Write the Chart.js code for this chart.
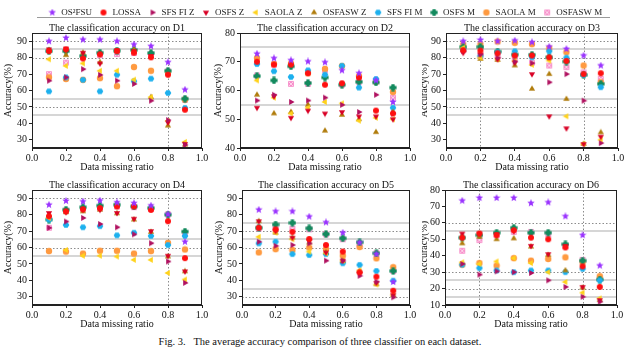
<!DOCTYPE html>
<html>
<head>
<meta charset="utf-8">
<script src="https://cdn.jsdelivr.net/npm/chart.js@4.4.1/dist/chart.umd.min.js"></script>
<style>
  html, body { margin: 0; padding: 0; background: #fff; }
  #wrap { position: relative; width: 640px; height: 355px; overflow: hidden; }
  #wrap canvas { position: absolute; }
  #rule { position: absolute; left: 37px; top: 17px; width: 573px; height: 1px; background: #9a9a9a; }
  #caption { position: absolute; left: 0; top: 336px; width: 640px; text-align: center;
             font: 10.5px 'Liberation Serif', serif; color: #111; white-space: pre; }
</style>
</head>
<body>
<div id="wrap">
  <div id="rule"></div>
  <div id="caption">Fig. 3.   The average accuracy comparison of three classifier on each dataset.</div>
</div>
<script>
// ── DATA ──────────────────────────────────────────────────────────────────
const X        = [0.1, 0.2, 0.3, 0.4, 0.5, 0.6, 0.7, 0.8, 0.9];
const X_TICKS  = [0, 0.2, 0.4, 0.6, 0.8, 1.0];
const SERIES   = ['OS²FSU','LOSSA','SFS FI Z','OSFS Z','SAOLA Z','OSFASW Z','SFS FI M','OSFS M','SAOLA M','OSFASW M'];

const Y_TICKS_A = [30, 40, 50, 60, 70, 80, 90];
const Y_TICKS_B = [40, 50, 60, 70, 80];
const Y_TICKS_C = [10, 20, 30, 40, 50, 60, 70, 80];

// one row per series, same order as SERIES
const D1 = [
  [90, 92, 91, 91, 90, 88, 87, 77.2, 60.5],
  [84, 85, 79.5, 82, 84, 83, 80.2, 69.6, 48.3],
  [66, 68, 73, 69.5, 66, 64, 53.8, 42, 27],
  [85, 85.5, 83, 76.5, 84.5, 84, 81, 40.6, 27.5],
  [79, 75, 76.5, 72, 72, 66.6, 56, 41.5, 28.7],
  [84.5, 81.5, 83, 77.2, 84, 85, 56, 38.6, 27],
  [59.5, 68, 66.5, 59.5, 69.6, 65.6, 67.2, 58.5, 49.4],
  [84, 84, 81, 83, 84.2, 84.7, 82.8, 72, 55],
  [68, 67, 66.5, 67.5, 62.6, 74.3, 72, 71, 54.5],
  [70, 77, 80.5, 81.5, 82.2, 82.8, 82, 71.7, 54.4],
];
const D2 = [
  [72.8, 71.2, 70.5, 70.1, 69.8, 67, 66, 63.5, 56],
  [70, 69, 69, 66, 62, 62.5, 64.5, 53, 52],
  [56.5, 58.5, 56, 56.5, 57.5, 55, 52.5, 58.5, 52],
  [54, 58, 50.5, 53, 52, 52.5, 51, 51, 50],
  [63.5, 57.5, 52, 54, 56, 55.5, 49.5, 50.5, 50],
  [58.5, 52, 52.5, 55, 46, 51.5, 50, 45.5, 52.5],
  [69.2, 66.7, 64.7, 67, 65.5, 68.6, 61, 64, 54],
  [65, 63.5, 68.4, 62.6, 64.5, 62, 63, 62.8, 61],
  [71.3, 69.2, 69.4, 66, 67.5, 68.5, 65, 63, 59.5],
  [65.2, 69, 62.3, 62.3, 67, 62, 63, 63.5, 57.5],
];
const D3 = [
  [90, 90.8, 90, 90.4, 89.4, 86.7, 85.3, 81.3, 75.2],
  [84.5, 84.3, 82.7, 81.3, 81.3, 80.2, 78, 70, 70.5],
  [84, 82, 80, 77.6, 76.6, 65, 70, 53.8, 28],
  [83, 82, 79, 77, 70, 44.3, 37, 27.4, 31.9],
  [86, 80, 79, 78, 75.6, 78.2, 44.3, 27.5, 30],
  [85, 79.2, 78.6, 75.2, 61, 70, 54.8, 27.5, 34.5],
  [85, 81, 83.3, 83.9, 80.2, 83.9, 80, 69.5, 62],
  [86.5, 86.5, 83.7, 81.9, 81.7, 80.2, 77.6, 69.5, 64],
  [88, 88, 89.8, 89, 88.2, 85.7, 83.3, 75.2, 65],
  [85, 81, 82, 80, 77, 75.2, 74.2, 71, 67],
];
const D4 = [
  [86, 88.4, 88, 88.6, 87.4, 87, 85.5, 80.2, 63.5],
  [79, 82, 83.3, 84, 85, 85, 82.9, 76, 53.5],
  [72, 75.8, 78, 74.3, 72.3, 68, 62.6, 51.5, 38.5],
  [81, 81.5, 83, 83, 81, 77.5, 70, 55, 45.5],
  [78, 58.5, 55, 55, 54.5, 52.5, 52.5, 44.5, 40.5],
  [79.8, 81.5, 82, 83, 80.8, 77, 69.5, 54.5, 45.5],
  [77, 73.7, 72.3, 73, 67.4, 69, 67, 61.5, 67],
  [77, 83, 84.5, 85.5, 86, 85, 84, 80, 69.7],
  [57.8, 57.5, 56.3, 58, 58, 56.3, 57.8, 62.8, 58.8],
  [72, 82.5, 83.5, 84, 85, 84.5, 83.5, 80.2, 68.7],
];
const D5 = [
  [83, 82, 82, 78.8, 75.3, 69, 63, 56, 39],
  [72, 71, 69.5, 65.2, 61.5, 57.5, 44.9, 42.2, 33.7],
  [63.5, 61, 61.5, 62.5, 52, 52, 42.8, 39.2, 29.7],
  [76, 70, 66, 64, 57, 52, 44, 38.5, 31],
  [66.5, 69, 65, 57.5, 56.5, 52, 46, 37.5, 31],
  [76, 69, 66, 63, 57, 51.8, 45.7, 37.6, 31],
  [62.5, 63.5, 56, 55.4, 56, 50.4, 49.4, 45.7, 39.8],
  [72, 74, 75, 71.7, 68.2, 65.6, 63.2, 56.5, 45.7],
  [57, 59, 58.5, 59.9, 59, 55, 60.3, 53.4, 48],
  [71.5, 72, 71.5, 71, 68, 65, 62, 56.5, 45.7],
];
const D6 = [
  [73.5, 75.2, 75.2, 75.2, 72, 72.5, 64, 52.5, 34],
  [51, 53.5, 52.5, 55.5, 51, 50, 45, 33.5, 21],
  [35, 28.5, 30.5, 30, 29.5, 25, 21, 15, 12],
  [53.5, 53.5, 53, 55, 46, 41, 46, 21, 13],
  [36, 35, 36.5, 38.5, 35.5, 30, 24, 17.5, 14],
  [47.5, 51.5, 50, 50.5, 45.5, 40.5, 31, 20.5, 13],
  [34.5, 32.5, 31, 30, 31, 31, 30, 32, 25],
  [51, 52.5, 54, 57, 54, 54, 47, 37, 25.5],
  [34.5, 35.5, 34, 38.5, 37, 38, 39, 36, 27.5],
  [43, 49.5, 52.5, 54.5, 54.5, 53, 46, 37.5, 26],
];

// ── STYLE ─────────────────────────────────────────────────────────────────
const SERIF  = "'Liberation Serif', 'Times New Roman', serif";
const COLORS = ['#9a32ff','#ff1010','#b0105f','#d90025','#ffd21a','#b07c0c','#1db0ee','#138a5e','#ff9a40','#f78cc9'];

function marker(draw) {
  const c = document.createElement('canvas');
  c.width = 8; c.height = 8;
  const g = c.getContext('2d');
  g.translate(4, 4);
  draw(g);
  return c;
}
function poly(g, n, r, rot, color) {
  g.beginPath();
  for (let i = 0; i < n; i++) {
    const a = rot + i * 2 * Math.PI / n;
    g.lineTo(r * Math.cos(a), r * Math.sin(a));
  }
  g.closePath(); g.fillStyle = color; g.fill();
}
function star(g, color) {
  g.beginPath();
  for (let i = 0; i < 10; i++) {
    const r = i % 2 ? 1.7 : 3.9, a = -Math.PI / 2 + i * Math.PI / 5;
    g.lineTo(r * Math.cos(a), r * Math.sin(a));
  }
  g.closePath(); g.fillStyle = color; g.fill();
}
function dot(g, color, r) { g.beginPath(); g.arc(0, 0, r, 0, Math.PI * 2); g.fillStyle = color; g.fill(); }

const MARKERS = [
  marker(g => star(g, COLORS[0])),
  marker(g => dot(g, COLORS[1], 3.0)),
  marker(g => poly(g, 3, 3.6, 0, COLORS[2])),
  marker(g => poly(g, 3, 3.6, Math.PI / 2, COLORS[3])),
  marker(g => poly(g, 3, 3.6, Math.PI, COLORS[4])),
  marker(g => poly(g, 3, 3.6, -Math.PI / 2, COLORS[5])),
  marker(g => poly(g, 6, 3.3, 0, COLORS[6])),
  marker(g => { g.fillStyle = COLORS[7]; g.fillRect(-1.6, -3.6, 3.2, 7.2); g.fillRect(-3.6, -1.6, 7.2, 3.2); dot(g, COLORS[7], 2.3); }),
  marker(g => dot(g, COLORS[8], 3.2)),
  marker(g => {
    g.fillStyle = COLORS[9]; g.fillRect(-2.9, -2.9, 5.8, 5.8);
    g.strokeStyle = '#ffd6ec'; g.lineWidth = 1; g.beginPath();
    g.moveTo(-2.2, -2.2); g.lineTo(2.2, 2.2); g.moveTo(2.2, -2.2); g.lineTo(-2.2, 2.2); g.stroke();
  }),
];

// ── PANELS ────────────────────────────────────────────────────────────────
// box = canvas [left, top, width, height]; plot = chart area [left, top, right, bottom]
const PANELS = [
  { name: 'D1', values: D1, min: 25, max: 95, ticks: Y_TICKS_A, solid: [85, 55, 45], dotted: [90, 80, 50], vdotted: [0.8],
    box: [0, 20, 214, 155], plot: [32, 33, 202, 148], ytPad: 2 },
  { name: 'D2', values: D2, min: 40, max: 80, ticks: Y_TICKS_B, solid: [75, 55], dotted: [], vdotted: [],
    box: [212, 20, 210, 155], plot: [240, 33, 410, 148], ytPad: 0 },
  { name: 'D3', values: D3, min: 25, max: 95, ticks: Y_TICKS_A, solid: [85, 55, 45], dotted: [90, 80, 50], vdotted: [0.2, 0.8],
    box: [422, 20, 218, 155], plot: [446, 33, 618, 148], ytPad: -4 },
  { name: 'D4', values: D4, min: 25, max: 95, ticks: Y_TICKS_A, solid: [65, 55], dotted: [90, 60], vdotted: [0.8],
    box: [0, 177, 214, 155], plot: [32, 190, 202, 305], ytPad: 2 },
  { name: 'D5', values: D5, min: 25, max: 95, ticks: Y_TICKS_A, solid: [75, 65, 35], dotted: [70, 60, 30], vdotted: [],
    box: [212, 177, 210, 155], plot: [242, 190, 410, 305], ytPad: 1 },
  { name: 'D6', values: D6, min: 10, max: 80, ticks: Y_TICKS_C, solid: [55, 25, 15], dotted: [60, 30, 20], vdotted: [0.2, 0.8],
    box: [422, 177, 218, 155], plot: [445, 190, 617, 305], ytPad: -4 },
];

const wrap = document.getElementById('wrap');

// reference lines, frame and panel title
const panelDeco = {
  id: 'panelDeco',
  beforeDatasetsDraw(chart, args, o) {
    const { ctx, chartArea: a, scales: { x, y } } = chart;
    ctx.save();
    ctx.beginPath(); ctx.rect(a.left, a.top, a.width, a.height); ctx.clip();
    ctx.lineWidth = 2; ctx.strokeStyle = '#d6d6d6';
    o.solid.forEach(v => {
      const p = Math.round(y.getPixelForValue(v));
      ctx.beginPath(); ctx.moveTo(a.left, p); ctx.lineTo(a.right, p); ctx.stroke();
    });
    ctx.lineWidth = 1; ctx.strokeStyle = '#8c8c8c'; ctx.setLineDash([1.5, 2]);
    o.dotted.forEach(v => {
      const p = Math.round(y.getPixelForValue(v)) + 0.5;
      ctx.beginPath(); ctx.moveTo(a.left, p); ctx.lineTo(a.right, p); ctx.stroke();
    });
    o.vdotted.forEach(v => {
      const p = Math.round(x.getPixelForValue(v)) + 0.5;
      ctx.beginPath(); ctx.moveTo(p, a.top); ctx.lineTo(p, a.bottom); ctx.stroke();
    });
    ctx.restore();
  },
  afterDraw(chart, args, o) {
    const { ctx, chartArea: a } = chart;
    ctx.save();
    ctx.strokeStyle = '#222'; ctx.lineWidth = 1;
    ctx.strokeRect(a.left + 0.5, a.top + 0.5, a.width - 1, a.height - 1);
    ctx.fillStyle = '#111'; ctx.font = '10px ' + SERIF;
    ctx.textAlign = 'center'; ctx.textBaseline = 'middle';
    ctx.fillText(o.title, (a.left + a.right) / 2, a.top - 5);
    ctx.restore();
  }
};

function renderPanel(p) {
  const [cx, cy, cw, ch] = p.box;
  const [pl, pt, pr, pb] = p.plot;
  const cv = document.createElement('canvas');
  cv.width = cw; cv.height = ch;
  cv.style.left = cx + 'px'; cv.style.top = cy + 'px';
  wrap.appendChild(cv);

  const font = { family: SERIF, size: 10 };
  new Chart(cv, {
    type: 'scatter',
    data: {
      datasets: SERIES.map((name, i) => ({
        label: name,
        data: X.map((x, j) => ({ x, y: p.values[i][j] })),
        pointStyle: MARKERS[i], pointRadius: 4, pointHoverRadius: 4,
      }))
    },
    options: {
      responsive: false, animation: false, devicePixelRatio: 1,
      layout: { padding: { left: 0, top: pt - cy, right: cx + cw - pr, bottom: 0 } },
      plugins: {
        legend: { display: false }, tooltip: { enabled: false },
        panelDeco: { title: 'The classification accuracy on ' + p.name, solid: p.solid, dotted: p.dotted, vdotted: p.vdotted }
      },
      scales: {
        x: {
          type: 'linear', min: 0, max: 1,
          afterBuildTicks: s => { s.ticks = X_TICKS.map(v => ({ value: v })); },
          afterFit: s => { s.height = cy + ch - pb; },
          ticks: { callback: v => v.toFixed(1), font, color: '#111', maxRotation: 0, padding: 1 },
          grid: { drawOnChartArea: false, tickLength: 3, color: '#222' },
          border: { color: '#222' },
          title: { display: true, text: 'Data missing ratio', font, color: '#111', padding: { top: 0, bottom: 2 } }
        },
        y: {
          min: p.min, max: p.max,
          afterBuildTicks: s => { s.ticks = p.ticks.map(v => ({ value: v })); },
          afterFit: s => { s.width = pl - cx; },
          ticks: { font, color: '#111', padding: 2 },
          grid: { drawOnChartArea: false, tickLength: 3, color: '#222' },
          border: { color: '#222' },
          title: { display: true, text: 'Accuracy(%)', font, color: '#111', padding: { top: p.ytPad, bottom: 0 } }
        }
      }
    },
    plugins: [panelDeco]
  });
}

PANELS.forEach(renderPanel);

// ── LEGEND ────────────────────────────────────────────────────────────────
const lg = document.createElement('canvas');
lg.width = 640; lg.height = 30;
lg.style.left = '5px'; lg.style.top = '1px';
wrap.appendChild(lg);
new Chart(lg, {
  type: 'scatter',
  data: { datasets: SERIES.map((name, i) => ({ label: name, data: [], pointStyle: MARKERS[i] })) },
  options: {
    responsive: false, animation: false, devicePixelRatio: 1,
    plugins: {
      tooltip: { enabled: false },
      legend: {
        display: true, position: 'top',
        labels: { usePointStyle: true, padding: 7, color: '#222', font: { family: SERIF, size: 9 } }
      }
    },
    scales: { x: { display: false }, y: { display: false } }
  }
});
</script>
</body>
</html>
